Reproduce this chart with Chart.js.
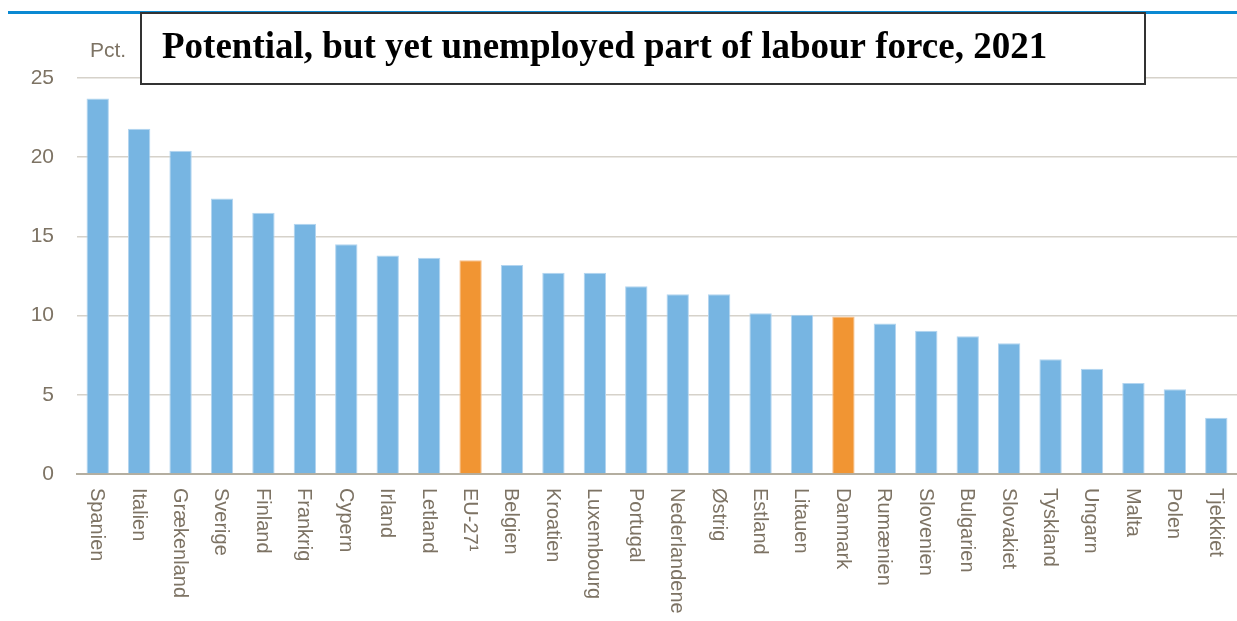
<!DOCTYPE html>
<html>
<head>
<meta charset="utf-8">
<script src="https://cdn.jsdelivr.net/npm/chart.js@4"></script>
<style>
  html, body { margin: 0; padding: 0; background: #fff; }
  #wrap { width: 1237px; height: 621px; position: relative; }
</style>
</head>
<body>
<div id="wrap"><canvas id="chart"></canvas></div>
<script>
// Data
const countries = ['Spanien', 'Italien', 'Grækenland', 'Sverige', 'Finland', 'Frankrig', 'Cypern', 'Irland', 'Letland',
    'EU-27¹', 'Belgien', 'Kroatien', 'Luxembourg', 'Portugal', 'Nederlandene', 'Østrig', 'Estland', 'Litauen',
    'Danmark', 'Rumænien', 'Slovenien', 'Bulgarien', 'Slovakiet', 'Tyskland', 'Ungarn', 'Malta', 'Polen', 'Tjekkiet'];
const values = [23.7, 21.8, 20.4, 17.4, 16.5, 15.8, 14.5, 13.8, 13.65,
    13.5, 13.2, 12.7, 12.7, 11.85, 11.35, 11.35, 10.15, 10.05,
    9.95, 9.5, 9.05, 8.7, 8.25, 7.25, 6.65, 5.75, 5.35, 3.55];
const highlighted = ['EU-27¹', 'Danmark'];
const yTicks = [0, 5, 10, 15, 20, 25];
const title = 'Potential, but yet unemployed part of labour force, 2021';
const unitLabel = 'Pct.';

const BLUE = '#77b5e2';
const ORANGE = '#f19533';
const TEXT = '#7d7364';

// Rotated country labels, reading top to bottom
const xLabelsPlugin = {
    id: 'xLabels',
    afterDraw(chart) {
        const ctx = chart.ctx;
        const x = chart.scales.x;
        const top = chart.chartArea.bottom + 14;
        ctx.save();
        ctx.font = '20px "Liberation Sans", Arial, sans-serif';
        ctx.fillStyle = TEXT;
        ctx.textAlign = 'left';
        ctx.textBaseline = 'middle';
        countries.forEach((c, i) => {
            ctx.save();
            ctx.translate(x.getPixelForValue(i) - 1, top);
            ctx.rotate(Math.PI / 2);
            ctx.fillText(c, 0, 0);
            ctx.restore();
        });
        ctx.restore();
    }
};

// Top rule, unit label and boxed title
const headerPlugin = {
    id: 'header',
    beforeDraw(chart) {
        const ctx = chart.ctx;
        ctx.save();
        ctx.fillStyle = '#fff';
        ctx.fillRect(0, 0, chart.width, chart.height);
        ctx.fillStyle = '#0a89d2';
        ctx.fillRect(8, 11, chart.width - 8, 3);
        ctx.restore();
    },
    afterDraw(chart) {
        const ctx = chart.ctx;
        ctx.save();
        ctx.font = '21px "Liberation Sans", Arial, sans-serif';
        ctx.fillStyle = TEXT;
        ctx.textBaseline = 'middle';
        ctx.fillText(unitLabel, 90, 51);

        ctx.fillStyle = '#fff';
        ctx.fillRect(141, 13, 1004, 71);
        ctx.strokeStyle = '#333';
        ctx.lineWidth = 2;
        ctx.strokeRect(141, 13, 1004, 71);

        ctx.fillStyle = '#000';
        ctx.font = 'bold 37px "Liberation Serif", "Times New Roman", serif';
        ctx.textBaseline = 'alphabetic';
        ctx.fillText(title, 162, 58);
        ctx.restore();
    }
};

const barColors = countries.map(c => highlighted.includes(c) ? ORANGE : BLUE);
const barBorders = countries.map(c => highlighted.includes(c) ? '#f6c08c' : '#b3d5f0');

new Chart(document.getElementById('chart'), {
    type: 'bar',
    data: {
        labels: countries,
        datasets: [{
            data: values,
            backgroundColor: barColors,
            borderColor: barBorders,
            borderWidth: 1,
            barPercentage: 0.9,
            categoryPercentage: 0.6
        }]
    },
    options: {
        responsive: true,
        maintainAspectRatio: false,
        animation: false,
        layout: { padding: { top: 78, left: 0, right: 0, bottom: 0 } },
        plugins: {
            legend: { display: false },
            tooltip: { enabled: false }
        },
        scales: {
            x: {
                grid: { display: false },
                border: { color: '#b4aea0', width: 2 },
                ticks: { display: false },
                afterFit: s => { s.height = 147; }
            },
            y: {
                min: 0,
                max: 25,
                afterBuildTicks: s => { s.ticks = yTicks.map(v => ({ value: v })); },
                afterFit: s => { s.width = 77; },
                border: { display: false },
                grid: { color: '#d6d2ca', lineWidth: 1.5, drawTicks: false },
                ticks: {
                    padding: 23,
                    color: TEXT,
                    font: { family: '"Liberation Sans", Arial, sans-serif', size: 21 }
                }
            }
        }
    },
    plugins: [headerPlugin, xLabelsPlugin]
});
</script>
</body>
</html>
